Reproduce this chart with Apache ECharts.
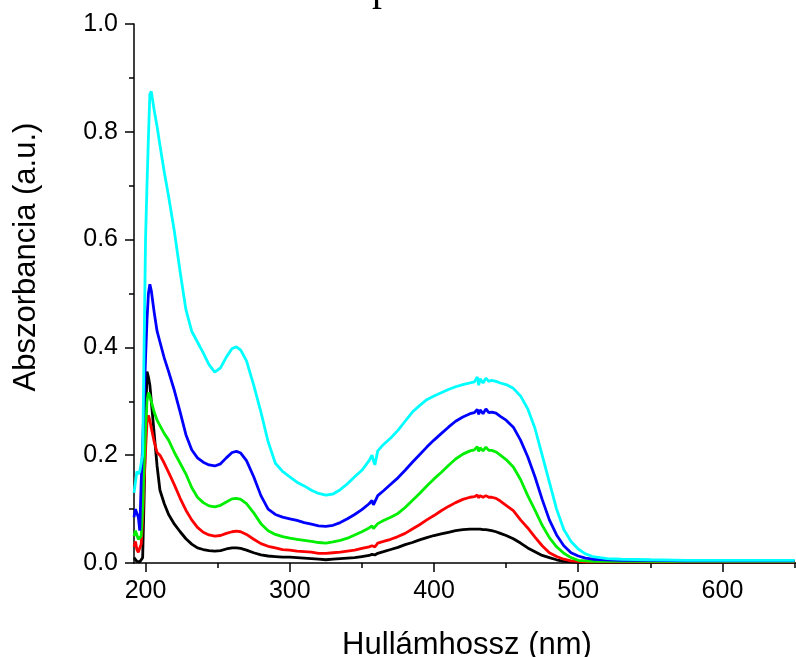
<!DOCTYPE html>
<html>
<head>
<meta charset="utf-8">
<script src="https://cdn.jsdelivr.net/npm/echarts@6/dist/echarts.min.js"></script>
<style>
  html, body { margin: 0; padding: 0; background: #fff; }
  #chart { width: 796px; height: 657px; }
</style>
</head>
<body>
<div id="chart"></div>
<script>
// wavelength grid (nm)
const wavelengths = [
  192, 193, 194, 195, 196, 197, 198, 199, 200, 201,
  202, 203, 204, 206, 208, 210, 213, 216, 220, 224,
  228, 232, 236, 240, 244, 248, 252, 256, 260, 263,
  266, 270, 275, 280, 285, 290, 295, 300, 305, 310,
  315, 320, 325, 330, 335, 340, 345, 350, 355, 357,
  358, 359, 361, 365, 370, 375, 380, 385, 390, 395,
  400, 405, 410, 415, 420, 425, 428, 430, 431, 432,
  434, 436, 438, 440, 443, 446, 450, 455, 460, 465,
  470, 475, 480, 485, 490, 495, 500, 505, 510, 520,
  530, 550, 575, 600, 625, 650
];

const absBlack = [
  0.010, 0.013, 0.003, 0.000, 0.002, 0.000, 0.010, 0.120, 0.250, 0.355,
  0.345, 0.330, 0.300, 0.240, 0.180, 0.135, 0.110, 0.090, 0.072, 0.058,
  0.045, 0.035, 0.028, 0.025, 0.023, 0.022, 0.023, 0.026, 0.028, 0.028,
  0.027, 0.024, 0.019, 0.015, 0.013, 0.012, 0.011, 0.011, 0.010, 0.009,
  0.008, 0.007, 0.006, 0.007, 0.008, 0.009, 0.010, 0.012, 0.014, 0.016,
  0.015, 0.015, 0.018, 0.021, 0.025, 0.029, 0.034, 0.038, 0.043, 0.047,
  0.051, 0.054, 0.057, 0.060, 0.062, 0.063, 0.063, 0.063, 0.062, 0.063,
  0.062, 0.062, 0.061, 0.060, 0.058, 0.055, 0.051, 0.045, 0.037, 0.028,
  0.021, 0.014, 0.010, 0.006, 0.003, 0.002, 0.001, 0.001, 0.001, 0.001,
  0.001, 0.001, 0.001, 0.001, 0.001, 0.001
];

const absRed = [
  0.030, 0.040, 0.025, 0.020, 0.028, 0.035, 0.080, 0.150, 0.210, 0.260,
  0.274, 0.265, 0.250, 0.225, 0.205, 0.200, 0.185, 0.168, 0.145, 0.120,
  0.098, 0.080, 0.066, 0.057, 0.052, 0.050, 0.051, 0.055, 0.058, 0.059,
  0.058, 0.053, 0.044, 0.036, 0.031, 0.028, 0.025, 0.024, 0.022, 0.021,
  0.020, 0.018, 0.018, 0.019, 0.020, 0.022, 0.024, 0.027, 0.030, 0.032,
  0.031, 0.030, 0.037, 0.040, 0.044, 0.049, 0.055, 0.063, 0.071, 0.080,
  0.088, 0.097, 0.105, 0.112, 0.118, 0.122, 0.123, 0.126, 0.121, 0.125,
  0.122, 0.125, 0.122, 0.122, 0.120, 0.115, 0.107, 0.097, 0.080, 0.065,
  0.048, 0.032, 0.019, 0.012, 0.007, 0.004, 0.003, 0.002, 0.002, 0.002,
  0.002, 0.002, 0.002, 0.002, 0.002, 0.002
];

const absGreen = [
  0.050, 0.060, 0.052, 0.044, 0.046, 0.050, 0.100, 0.180, 0.250, 0.300,
  0.316, 0.310, 0.300, 0.280, 0.265, 0.255, 0.240, 0.228, 0.205, 0.185,
  0.165, 0.140, 0.122, 0.112, 0.106, 0.104, 0.107, 0.113, 0.119, 0.120,
  0.118, 0.110, 0.093, 0.073, 0.060, 0.053, 0.049, 0.046, 0.044, 0.042,
  0.040, 0.038, 0.037, 0.039, 0.042, 0.046, 0.052, 0.058, 0.065, 0.069,
  0.064, 0.063, 0.073, 0.079, 0.085, 0.092, 0.103, 0.116, 0.129, 0.143,
  0.156, 0.168, 0.181, 0.193, 0.202, 0.208, 0.210, 0.216, 0.207, 0.214,
  0.208, 0.215, 0.209, 0.209, 0.206, 0.200, 0.192, 0.178, 0.155, 0.125,
  0.098, 0.070, 0.047, 0.030, 0.018, 0.010, 0.005, 0.004, 0.003, 0.003,
  0.003, 0.003, 0.003, 0.003, 0.003, 0.003
];

const absBlue = [
  0.085, 0.100, 0.098, 0.085, 0.060, 0.150, 0.220, 0.300, 0.380, 0.450,
  0.500, 0.517, 0.505, 0.465, 0.430, 0.410, 0.380, 0.355, 0.320, 0.280,
  0.238, 0.210, 0.195, 0.187, 0.182, 0.180, 0.184, 0.195, 0.205, 0.207,
  0.204, 0.190, 0.160, 0.125, 0.100, 0.090, 0.085, 0.082, 0.079, 0.075,
  0.072, 0.069, 0.068, 0.070, 0.075, 0.082, 0.090, 0.099, 0.110, 0.116,
  0.108, 0.106, 0.125, 0.134, 0.146, 0.158, 0.172, 0.187, 0.201, 0.215,
  0.228, 0.240, 0.252, 0.263, 0.271, 0.277, 0.279, 0.285, 0.276, 0.284,
  0.277, 0.286, 0.279, 0.280, 0.278, 0.272, 0.265, 0.252, 0.228, 0.197,
  0.160, 0.118, 0.080, 0.052, 0.032, 0.019, 0.013, 0.009, 0.007, 0.006,
  0.005, 0.005, 0.004, 0.004, 0.004, 0.004
];

const absCyan = [
  0.130, 0.150, 0.170, 0.165, 0.170, 0.185, 0.200, 0.400, 0.600, 0.700,
  0.790, 0.870, 0.875, 0.840, 0.810, 0.775, 0.725, 0.680, 0.615, 0.540,
  0.470, 0.430, 0.410, 0.390, 0.368, 0.354, 0.362, 0.382, 0.398, 0.401,
  0.395, 0.375, 0.330, 0.280, 0.225, 0.185, 0.170, 0.160, 0.150, 0.143,
  0.135, 0.129, 0.126, 0.128, 0.136, 0.147, 0.160, 0.172, 0.190, 0.200,
  0.190, 0.182, 0.208, 0.220, 0.232, 0.246, 0.263, 0.280, 0.292, 0.303,
  0.310, 0.316, 0.322, 0.327, 0.331, 0.334, 0.336, 0.345, 0.330, 0.342,
  0.334, 0.343, 0.337, 0.339, 0.337, 0.334, 0.331, 0.324, 0.310, 0.286,
  0.250, 0.200, 0.150, 0.100, 0.062, 0.040, 0.026, 0.017, 0.012, 0.008,
  0.007, 0.006, 0.005, 0.005, 0.005, 0.005
];

const seriesList = [
  { name: 'a', color: '#000000', values: absBlack },
  { name: 'b', color: '#ff0000', values: absRed },
  { name: 'c', color: '#00ee00', values: absGreen },
  { name: 'd', color: '#0000ff', values: absBlue },
  { name: 'e', color: '#00ffff', values: absCyan }
];

const majorX = [200, 300, 400, 500, 600];
const minorX = [250, 350, 450, 550, 650];

const chart = echarts.init(document.getElementById('chart'));

const axisFont = { fontFamily: 'Liberation Sans, Arial, sans-serif', fontSize: 25, color: '#000' };
const nameFont = '31px "Liberation Sans", Arial, sans-serif';

chart.setOption({
  animation: false,
  grid: { left: 134, right: 0, top: 24, bottom: 94, containLabel: false },
  xAxis: [
    {
      type: 'value',
      min: 192,
      max: 651,
      axisLine: { show: true, onZero: false, lineStyle: { color: '#000', width: 1.5 } },
      axisTick: { show: true, length: 9, customValues: majorX, lineStyle: { color: '#000', width: 1.5 } },
      axisLabel: { ...axisFont, margin: 16, customValues: majorX },
      splitLine: { show: false }
    },
    {
      type: 'value',
      position: 'bottom',
      min: 192,
      max: 651,
      axisLine: { show: false },
      axisTick: { show: true, length: 5, customValues: minorX, lineStyle: { color: '#000', width: 1.5 } },
      axisLabel: { show: false },
      splitLine: { show: false }
    }
  ],
  yAxis: {
    type: 'value',
    min: 0,
    max: 1,
    interval: 0.2,
    axisLine: { show: true, onZero: false, lineStyle: { color: '#000', width: 1.5 } },
    axisTick: { show: true, length: 9, lineStyle: { color: '#000', width: 1.5 } },
    minorTick: { show: true, splitNumber: 2, length: 5, lineStyle: { color: '#000', width: 1.5 } },
    axisLabel: { ...axisFont, margin: 16, formatter: (v) => v.toFixed(1) },
    splitLine: { show: false },
    minorSplitLine: { show: false }
  },
  series: seriesList.map((s) => ({
    type: 'line',
    name: s.name,
    xAxisIndex: 0,
    showSymbol: false,
    symbol: 'none',
    lineStyle: { color: s.color, width: 2.8 },
    data: wavelengths.map((w, i) => [w, s.values[i]])
  })),
  graphic: [
    {
      type: 'text',
      x: 26, y: 257,
      rotation: Math.PI / 2,
      style: {
        text: 'Abszorbancia (a.u.)',
        font: nameFont,
        fill: '#000',
        textAlign: 'center',
        textVerticalAlign: 'middle'
      }
    },
    {
      type: 'text',
      x: 467, y: 645,
      style: {
        text: 'Hullámhossz (nm)',
        font: nameFont,
        fill: '#000',
        textAlign: 'center',
        textVerticalAlign: 'middle'
      }
    },
    {
      type: 'text',
      x: 372, y: -11,
      style: {
        text: 'p',
        font: '40px "Liberation Serif", "Times New Roman", serif',
        fill: '#000',
        textAlign: 'left',
        textVerticalAlign: 'middle'
      }
    }
  ]
});
</script>
</body>
</html>
